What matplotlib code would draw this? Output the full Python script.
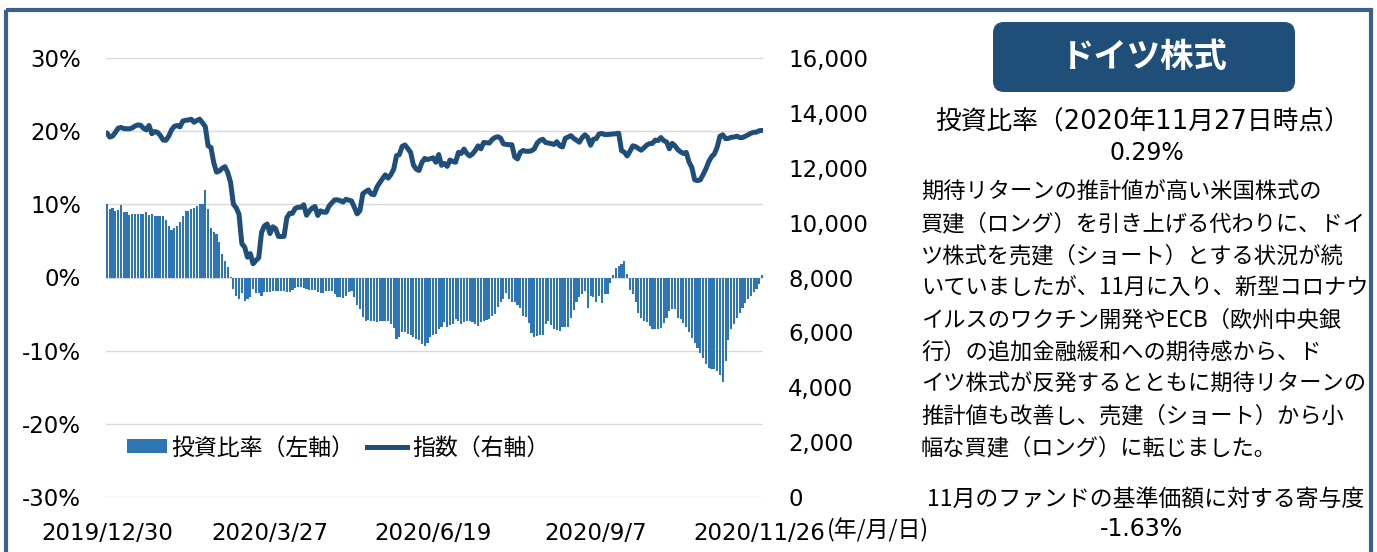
import matplotlib
matplotlib.use("Agg")
import matplotlib.pyplot as plt
from matplotlib.patches import Rectangle, FancyBboxPatch, Patch
from matplotlib.lines import Line2D
from matplotlib.ticker import FuncFormatter

plt.rcParams['font.family'] = ['DejaVu Sans', 'Noto Sans CJK JP']
JP = ['Noto Sans CJK JP', 'DejaVu Sans']
MIX = ['DejaVu Sans', 'Noto Sans CJK JP']

# ---------------- data ----------------
date_labels = ["2019/12/30", "2020/3/27", "2020/6/19", "2020/9/7", "2020/11/26"]
date_label_idx = [0, 58, 116, 174, 232]

ratio_pct = [
    10.1, 9.4, 9.5, 9.1, 9.2, 9.9, 9.0, 8.9, 8.6, 8.7,
    8.7, 8.7, 8.7, 8.7, 8.9, 8.6, 8.7, 8.4, 8.4, 8.4,
    8.4, 7.8, 7.1, 6.5, 6.7, 7.0, 7.6, 8.4, 9.1, 9.1,
    9.4, 9.5, 9.8, 10.1, 10.1, 12.0, 9.4, 6.7, 6.2, 6.0,
    4.8, 3.2, 2.3, 1.4, 0.1, -1.6, -2.5, -2.9, -2.1, -3.2,
    -2.9, -2.6, -1.6, -2.1, -2.1, -2.5, -2.0, -2.0, -2.0, -1.9,
    -1.9, -1.9, -1.9, -1.9, -2.0, -2.0, -1.7, -1.5, -1.3, -1.3,
    -1.5, -1.6, -1.7, -1.7, -1.7, -2.0, -2.1, -2.1, -1.8, -1.8,
    -1.9, -2.2, -2.7, -2.7, -2.8, -2.5, -2.0, -1.9, -2.7, -3.7,
    -4.3, -5.4, -5.9, -5.8, -5.9, -6.0, -6.1, -6.0, -5.9, -5.9,
    -6.0, -6.3, -6.9, -8.4, -8.2, -7.5, -7.5, -7.7, -7.9, -8.1,
    -8.4, -8.6, -9.1, -9.3, -9.0, -8.2, -7.9, -7.7, -7.0, -6.8,
    -6.1, -6.7, -6.5, -6.4, -5.7, -5.9, -6.3, -6.1, -6.0, -6.0,
    -6.1, -6.3, -6.6, -6.1, -5.9, -5.8, -5.7, -5.3, -5.0, -4.0,
    -3.3, -3.0, -2.1, -2.9, -3.3, -3.4, -3.7, -4.2, -5.2, -5.4,
    -6.2, -7.6, -8.1, -8.0, -7.8, -7.8, -6.4, -5.9, -6.5, -7.0,
    -7.2, -7.3, -6.7, -6.8, -6.8, -5.5, -4.5, -3.3, -2.6, -2.2,
    -1.8, -4.2, -2.5, -2.6, -3.4, -2.5, -3.5, -2.2, -2.3, -0.8,
    0.3, 1.3, 1.6, 1.9, 2.3, 0.5, -1.7, -2.2, -3.4, -4.9,
    -5.5, -5.9, -6.1, -6.6, -7.0, -7.0, -7.0, -6.9, -6.2, -5.5,
    -4.6, -4.3, -4.3, -5.6, -5.7, -6.2, -6.8, -7.5, -8.3, -8.9,
    -9.6, -10.3, -11.0, -11.8, -12.4, -12.5, -12.5, -12.8, -13.3, -14.3,
    -11.4, -8.5, -7.0, -6.3, -5.6, -4.9, -4.2, -3.5, -3.0, -2.5,
    -2.0, -1.6, -0.9, 0.29,
]

index_values = [
    13270, 13120, 13150, 13280, 13440, 13470, 13430, 13420, 13420, 13450,
    13520, 13560, 13550, 13440, 13380, 13540, 13240, 13320, 13290, 13180,
    13010, 13000, 13150, 13380, 13510, 13540, 13490, 13700, 13730, 13740,
    13770, 13660, 13720, 13770, 13640, 13500, 12800, 12740, 12190, 11840,
    11880, 11980, 12040, 11820, 11460, 10670, 10540, 10300, 9230, 9110,
    8740, 8870, 8500, 8620, 8720, 9640, 9880, 9950, 9600, 9850,
    9780, 9500, 9490, 9500, 10180, 10340, 10340, 10520, 10560, 10560,
    10650, 10270, 10420, 10530, 10590, 10260, 10430, 10380, 10380, 10600,
    10720, 10830, 10830, 10800, 10750, 10850, 10820, 10790, 10560, 10320,
    10440, 11050, 11130, 11190, 11040, 11020, 11290, 11450, 11600, 11740,
    11620, 11750, 11950, 12440, 12480, 12780, 12830, 12700, 12560, 12100,
    11950, 11900, 12190, 12340, 12300, 12330, 12360, 12200, 12480, 12090,
    12160, 12050, 12280, 12230, 12200, 12560, 12520, 12680, 12520, 12430,
    12500, 12630, 12800, 12690, 12920, 12910, 12900, 13030, 13100, 13130,
    13080, 12870, 12850, 12840, 12840, 12400, 12320, 12560, 12630, 12600,
    12600, 12620, 12690, 12900, 13000, 13040, 12920, 12900, 12880, 12850,
    12950, 12800, 12760, 13070, 13120, 13170, 13070, 13000, 12930, 13100,
    13200, 13100, 12820, 13040, 13060, 13230, 13250, 13210, 13210, 13220,
    13230, 13240, 13260, 12620, 12570, 12430, 12600, 12800, 12770, 12700,
    12640, 12730, 12830, 12880, 12890, 13010, 12990, 13100, 12990, 12940,
    12690, 12890, 12800, 12660, 12580, 12520, 12560, 12210, 12010, 11560,
    11530, 11560, 11750, 11960, 12220, 12400, 12500, 12750, 13150, 13200,
    13060, 13070, 13110, 13120, 13150, 13100, 13100, 13150, 13200, 13260,
    13290, 13300, 13350, 13360,
]

left_ticks = [-30, -20, -10, 0, 10, 20, 30]
right_ticks = [0, 2000, 4000, 6000, 8000, 10000, 12000, 14000, 16000]

title_text = "ドイツ株式"
ratio_head = "投資比率（2020年11月27日時点）"
ratio_value = "0.29%"
body_lines = [
    "期待リターンの推計値が高い米国株式の",
    "買建（ロング）を引き上げる代わりに、ドイ",
    "ツ株式を売建（ショート）とする状況が続",
    "いていましたが、11月に入り、新型コロナウ",
    "イルスのワクチン開発やECB（欧州中央銀",
    "行）の追加金融緩和への期待感から、ド",
    "イツ株式が反発するとともに期待リターンの",
    "推計値も改善し、売建（ショート）から小",
    "幅な買建（ロング）に転じました。",
]
contrib_head = "11月のファンドの基準価額に対する寄与度"
contrib_value = "-1.63%"
legend_labels = ["投資比率（左軸）", "指数（右軸）"]

# ---------------- figure ----------------
W, H = 1377, 552
fig = plt.figure(figsize=(W / 100, H / 100), dpi=100)
fig.patch.set_facecolor('white')

BAR_C = '#2E75B6'
LINE_C = '#1F4E79'
GRID_C = '#D9D9D9'

ax = fig.add_axes([106 / W, 1 - 497 / H, 657 / W, 439 / H])
ax2 = ax.twinx()

n = len(ratio_pct)
xs = list(range(n))
ax.bar(xs, ratio_pct, width=0.75, color=BAR_C, zorder=2, linewidth=0)
ax2.plot(xs, index_values, color=LINE_C, lw=3.6, solid_joinstyle='round',
         solid_capstyle='round', zorder=3)

ax.set_xlim(-0.3, n - 1 + 0.3)
ax.set_ylim(-30, 30)
ax2.set_ylim(0, 16000)
ax.set_yticks(left_ticks)
ax.yaxis.set_major_formatter(FuncFormatter(lambda v, p: f"{int(v)}%"))
ax2.set_yticks(right_ticks)
ax2.yaxis.set_major_formatter(FuncFormatter(lambda v, p: f"{int(v):,}"))
ax.set_xticks(date_label_idx)
ax.set_xticklabels(date_labels)

ax.grid(axis='y', color=GRID_C, lw=1.0)
ax.set_axisbelow(True)
for a in (ax, ax2):
    for s in a.spines.values():
        s.set_visible(False)
ax.tick_params(axis='y', length=0, pad=18, labelsize=16.5, labelcolor='black')
ax2.tick_params(axis='y', length=0, pad=18, labelsize=16.5, labelcolor='black')
ax.tick_params(axis='x', length=0, pad=18, labelsize=16.5, labelcolor='black')

handles = [Patch(facecolor=BAR_C, edgecolor='none'),
           Line2D([0], [0], color=LINE_C, lw=3.6)]
ax2.legend(handles, legend_labels, loc='center left',
           bbox_to_anchor=(127 / W, 1 - 448 / H), bbox_transform=fig.transFigure,
           ncol=2, frameon=False, prop={'family': JP, 'size': 16.5},
           handlelength=1.75, handleheight=0.55, handletextpad=0.2,
           columnspacing=0.55, borderpad=0, borderaxespad=0)

# ---------------- overlay (pixel coordinates) ----------------
ov = fig.add_axes([0, 0, 1, 1], zorder=10)
ov.set_xlim(0, W)
ov.set_ylim(H, 0)
ov.axis('off')

ov.add_patch(Rectangle((6, 10), 1365, 560, fill=False, ec='#3D5F8E', lw=3,
                       clip_on=False))
ov.add_patch(FancyBboxPatch((993, 22), 302, 70,
                            boxstyle='round,pad=0,rounding_size=11',
                            fc='#1F4E79', ec='none'))
ov.text(1144, 57, title_text, color='white', fontsize=24, fontweight='bold',
        family=JP, ha='center', va='center')

ov.text(1143, 122, ratio_head, fontsize=18.5, family=MIX, ha='center',
        va='center', color='black')
ov.text(1147, 153, ratio_value, fontsize=17, ha='center', va='center',
        color='black')

y0 = 192
for k, line in enumerate(body_lines):
    ov.text(921, y0 + 32 * k, line, fontsize=16, family=JP, ha='left',
            va='center', color='black')

ov.text(1146, 500, contrib_head, fontsize=16.5, family=JP, ha='center',
        va='center', color='black')
ov.text(1141, 529, contrib_value, fontsize=17, ha='center', va='center',
        color='black')

ov.text(827, 530, "(年/月/日)", fontsize=16.5, family=JP, ha='left',
        va='center', color='black')

fig.savefig('out.png', dpi=100, facecolor='white')
